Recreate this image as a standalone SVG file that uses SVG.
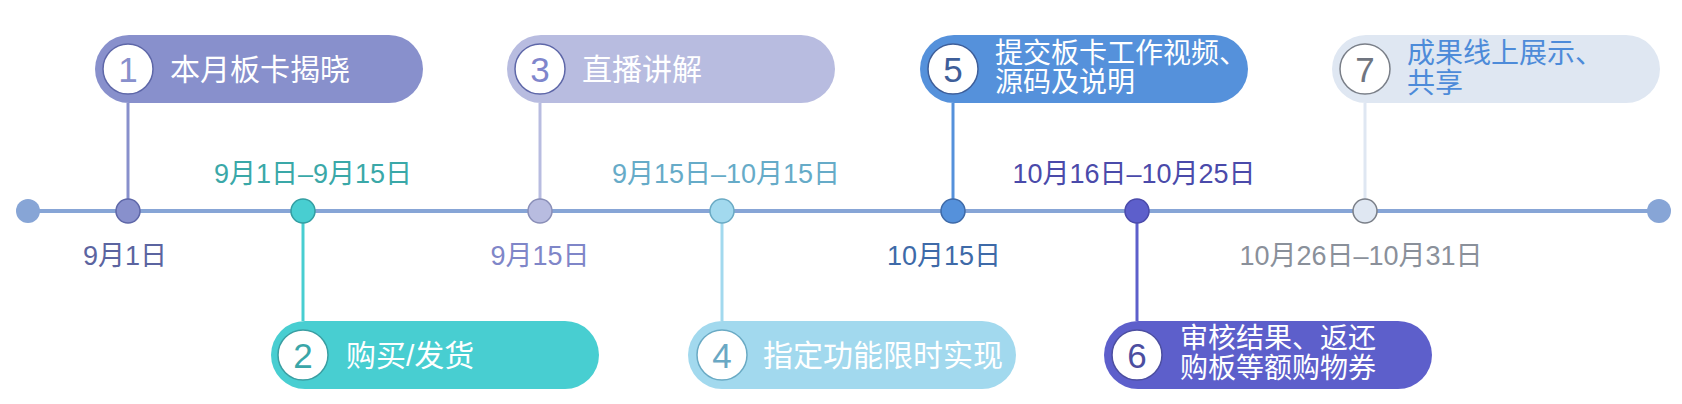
<svg xmlns="http://www.w3.org/2000/svg" width="1682" height="404" viewBox="0 0 1682 404">
<style>
text{font-family:"Liberation Sans","Noto Sans CJK SC",sans-serif}
.pt{font-size:30px;fill:#fff}
.pt2{font-size:28px;fill:#fff}
.num{font-size:35px;text-anchor:middle}
.date{font-size:27px;text-anchor:middle}
.badge{fill:#fff;stroke-width:1.5}
.conn{stroke-width:3;fill:none}
.dot{stroke-width:1.5}
</style>
<rect width="1682" height="404" fill="#fff"/>
<g id="connectors">
<line x1="28" y1="211" x2="1659" y2="211" stroke="#87a5d6" stroke-width="4"/>
<line class="conn" x1="128" y1="103" x2="128" y2="211" stroke="#8890cc"/>
<line class="conn" x1="303" y1="211" x2="303" y2="321" stroke="#48ced1"/>
<line class="conn" x1="540" y1="103" x2="540" y2="211" stroke="#b8bce0"/>
<line class="conn" x1="722" y1="211" x2="722" y2="321" stroke="#a2d9ee"/>
<line class="conn" x1="953" y1="103" x2="953" y2="211" stroke="#5591db"/>
<line class="conn" x1="1137" y1="211" x2="1137" y2="321" stroke="#5d5fcb"/>
<line class="conn" x1="1365" y1="103" x2="1365" y2="211" stroke="#dfe7f2"/>
</g>
<g id="timeline-ends">
<circle cx="28" cy="211" r="12" fill="#87a5d6"/>
<circle cx="1659" cy="211" r="12" fill="#87a5d6"/>
</g>
<g id="node1">
<rect x="95" y="35" width="328" height="68" rx="34" fill="#8890cc"/>
<circle class="badge" cx="128" cy="69" r="25" stroke="#5e67a8"/>
<text class="num" x="128" y="82" fill="#8890cc">1</text>
<text class="pt" x="170" y="80">本月板卡揭晓</text>
<circle class="dot" cx="128" cy="211" r="12" fill="#8890cc" stroke="#5e67a8"/>
<text class="date" x="125" y="265" fill="#5b64a0">9月1日</text>
</g>
<g id="node2">
<rect x="271" y="321" width="328" height="68" rx="34" fill="#48ced1"/>
<circle class="badge" cx="303" cy="355" r="25" stroke="#3a9ea2"/>
<text class="num" x="303" y="368" fill="#3aa6a8">2</text>
<text class="pt" x="346" y="366">购买/发货</text>
<circle class="dot" cx="303" cy="211" r="12" fill="#48ced1" stroke="#339ea2"/>
<text class="date" x="313" y="183" fill="#3aa8a8">9月1日–9月15日</text>
</g>
<g id="node3">
<rect x="507" y="35" width="328" height="68" rx="34" fill="#b8bce0"/>
<circle class="badge" cx="540" cy="69" r="25" stroke="#5e67a8"/>
<text class="num" x="540" y="82" fill="#7f86cc">3</text>
<text class="pt" x="582" y="80">直播讲解</text>
<circle class="dot" cx="540" cy="211" r="12" fill="#b8bce0" stroke="#8a8fb8"/>
<text class="date" x="540" y="265" fill="#7f86c8">9月15日</text>
</g>
<g id="node4">
<rect x="688" y="321" width="328" height="68" rx="34" fill="#a2d9ee"/>
<circle class="badge" cx="722" cy="355" r="25" stroke="#6aaac4"/>
<text class="num" x="722" y="368" fill="#6aa8c4">4</text>
<text class="pt" x="763" y="366">指定功能限时实现</text>
<circle class="dot" cx="722" cy="211" r="12" fill="#a2d9ee" stroke="#6aaac4"/>
<text class="date" x="726" y="183" fill="#66abc8">9月15日–10月15日</text>
</g>
<g id="node5">
<rect x="920" y="35" width="328" height="68" rx="34" fill="#5591db"/>
<circle class="badge" cx="953" cy="69" r="25" stroke="#3e5e99"/>
<text class="num" x="953" y="82" fill="#3e5e99">5</text>
<text class="pt2" x="995" y="63">提交板卡工作视频、</text>
<text class="pt2" x="995" y="92">源码及说明</text>
<circle class="dot" cx="953" cy="211" r="12" fill="#5591db" stroke="#3e6aa8"/>
<text class="date" x="944" y="265" fill="#3e6aa8">10月15日</text>
</g>
<g id="node6">
<rect x="1104" y="321" width="328" height="68" rx="34" fill="#5d5fcb"/>
<circle class="badge" cx="1137" cy="355" r="25" stroke="#4c4ea0"/>
<text class="num" x="1137" y="368" fill="#4c4ea0">6</text>
<text class="pt2" x="1180" y="348">审核结果、返还</text>
<text class="pt2" x="1180" y="378">购板等额购物券</text>
<circle class="dot" cx="1137" cy="211" r="12" fill="#5d5fcb" stroke="#4a4aaa"/>
<text class="date" x="1134" y="183" fill="#4a4aaa">10月16日–10月25日</text>
</g>
<g id="node7">
<rect x="1332" y="35" width="328" height="68" rx="34" fill="#dfe7f2"/>
<circle class="badge" cx="1365" cy="69" r="25" stroke="#7a7f88"/>
<text class="num" x="1365" y="82" fill="#707580">7</text>
<text class="pt2" x="1407" y="63" style="fill:#4d8bd9">成果线上展示、</text>
<text class="pt2" x="1407" y="93" style="fill:#4d8bd9">共享</text>
<circle class="dot" cx="1365" cy="211" r="12" fill="#dfe7f2" stroke="#7a7f88"/>
<text class="date" x="1361" y="265" fill="#8a909a">10月26日–10月31日</text>
</g>
</svg>
